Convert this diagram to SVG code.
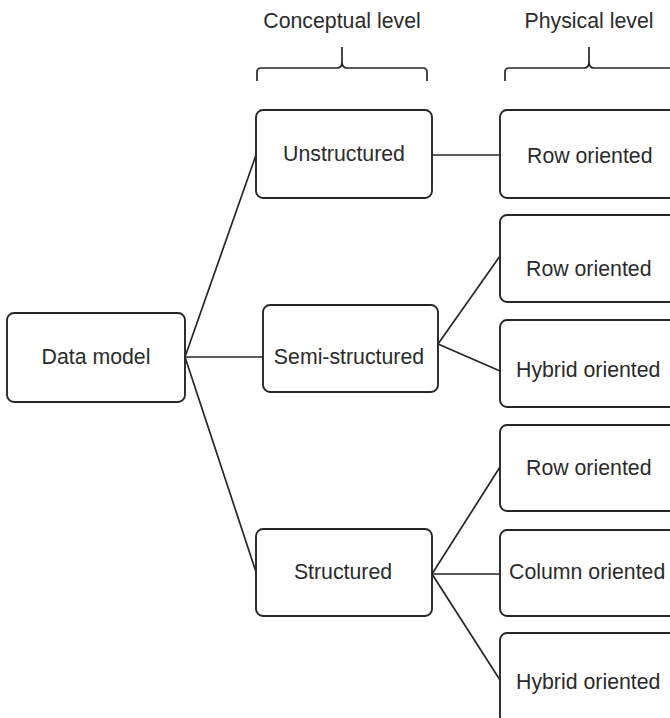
<svg xmlns="http://www.w3.org/2000/svg" width="670" height="718" viewBox="0 0 670 718">
  <style>
    .box { fill: #ffffff; stroke: #262626; stroke-width: 1.9; }
    .lbl { font-family: "Liberation Sans", Arial, sans-serif; font-size: 21.3px; fill: #2b2b2b; }
    .mid { text-anchor: middle; }
    .edge { fill: none; stroke: #262626; stroke-width: 1.7; }
    .brace { fill: none; stroke: #262626; stroke-width: 1.7; stroke-linejoin: round; }
  </style>
  <rect width="670" height="718" fill="#ffffff"/>

  <!-- level headings with braces -->
  <g id="heading-conceptual">
    <text class="lbl mid" x="342" y="28">Conceptual level</text>
    <path class="brace" d="M257 81 V72 Q257 68 261 68 H337 Q342 68 342 62 V47 M342 62 Q342 68 347 68 H423 Q427 68 427 72 V81"/>
  </g>
  <g id="heading-physical">
    <text class="lbl mid" x="589" y="28">Physical level</text>
    <path class="brace" d="M505 81 V72 Q505 68 509 68 H584 Q589 68 589 62 V47 M589 62 Q589 68 594 68 H680"/>
  </g>

  <!-- connectors -->
  <g id="connectors">
    <line class="edge" x1="185" y1="357" x2="256" y2="155"/>
    <line class="edge" x1="185" y1="357" x2="263" y2="357"/>
    <line class="edge" x1="185" y1="357" x2="256" y2="572"/>
    <line class="edge" x1="432" y1="155" x2="500" y2="155"/>
    <line class="edge" x1="438" y1="344" x2="500" y2="256"/>
    <line class="edge" x1="438" y1="344" x2="500" y2="371"/>
    <line class="edge" x1="432" y1="574" x2="500" y2="467"/>
    <line class="edge" x1="432" y1="574" x2="500" y2="574"/>
    <line class="edge" x1="432" y1="574" x2="500" y2="680"/>
  </g>

  <!-- root -->
  <g id="data-model">
    <rect class="box" x="7" y="313" width="178" height="89" rx="7"/>
    <text class="lbl mid" x="96" y="364">Data model</text>
  </g>

  <!-- conceptual level -->
  <g id="unstructured">
    <rect class="box" x="256" y="110" width="176" height="88" rx="7"/>
    <text class="lbl mid" x="344" y="161">Unstructured</text>
  </g>
  <g id="semi-structured">
    <rect class="box" x="263" y="305" width="175" height="87" rx="7"/>
    <text class="lbl mid" x="349" y="364">Semi-structured</text>
  </g>
  <g id="structured">
    <rect class="box" x="256" y="529" width="176" height="87" rx="7"/>
    <text class="lbl mid" x="343" y="579">Structured</text>
  </g>

  <!-- physical level -->
  <g id="unstructured-row">
    <rect class="box" x="500" y="110" width="200" height="88" rx="7"/>
    <text class="lbl" x="527" y="163">Row oriented</text>
  </g>
  <g id="semi-row">
    <rect class="box" x="500" y="215" width="200" height="87" rx="7"/>
    <text class="lbl" x="526" y="276">Row oriented</text>
  </g>
  <g id="semi-hybrid">
    <rect class="box" x="500" y="320" width="200" height="87" rx="7"/>
    <text class="lbl" x="516" y="377">Hybrid oriented</text>
  </g>
  <g id="structured-row">
    <rect class="box" x="500" y="425" width="200" height="86" rx="7"/>
    <text class="lbl" x="526" y="475">Row oriented</text>
  </g>
  <g id="structured-column">
    <rect class="box" x="500" y="530" width="200" height="86" rx="7"/>
    <text class="lbl" x="509" y="579">Column oriented</text>
  </g>
  <g id="structured-hybrid">
    <rect class="box" x="500" y="633" width="200" height="90" rx="7"/>
    <text class="lbl" x="516" y="689">Hybrid oriented</text>
  </g>
</svg>
